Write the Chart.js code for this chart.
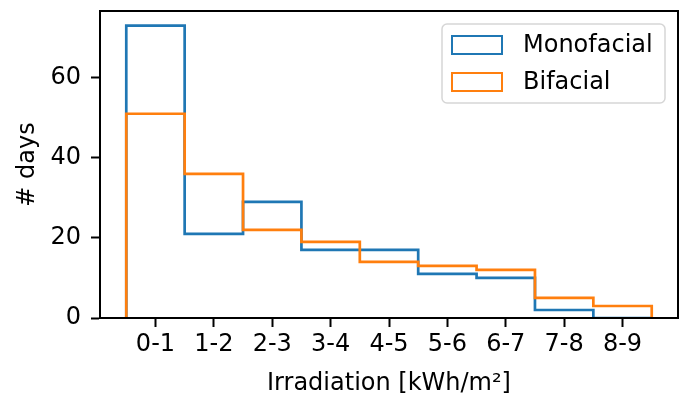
<!DOCTYPE html>
<html>
<head>
<meta charset="utf-8">
<script src="https://cdn.jsdelivr.net/npm/chart.js@4/dist/chart.umd.min.js"></script>
<style>
  body { margin: 0; background: #fff; }
</style>
</head>
<body>
<canvas id="hist" width="686" height="399"></canvas>
<script>
// bins of daily irradiation, kWh/m2
const categories = ['0-1', '1-2', '2-3', '3-4', '4-5', '5-6', '6-7', '7-8', '8-9'];
const monofacial = [73, 21, 29, 17, 17, 11, 10, 2, 0];
const bifacial = [51, 36, 22, 19, 14, 13, 12, 5, 3];
const yTicks = [0, 20, 40, 60];

const FONT = 'DejaVu Sans';
const FS = 24;

// turn bin counts into a step outline (like histtype='step')
function stepPoints(counts) {
  let pts = [{ x: -0.5, y: 0 }];
  counts.forEach((c, i) => {
    pts.push({ x: i - 0.5, y: c });
    pts.push({ x: i + 0.5, y: c });
  });
  pts.push({ x: counts.length - 0.5, y: 0 });
  return pts;
}

const allVals = monofacial.concat(bifacial);
const yMax = Math.max(...allVals) * 1.05;
const xPad = categories.length * 0.05;

// box around the plot + legend drawn inside the axes
const framePlugin = {
  id: 'frame',
  afterDraw(chart) {
    const ctx = chart.ctx;
    const a = chart.chartArea;
    ctx.save();
    ctx.strokeStyle = '#000';
    ctx.lineWidth = 2;
    ctx.strokeRect(a.left, a.top, a.right - a.left, a.bottom - a.top);

    // legend
    const x0 = a.right - 236, y0 = a.top + 13, w = 223, h = 79;
    ctx.beginPath();
    ctx.roundRect(x0, y0, w, h, 5);
    ctx.fillStyle = 'rgba(255,255,255,0.8)';
    ctx.fill();
    ctx.strokeStyle = '#d6d6d6';
    ctx.lineWidth = 1.5;
    ctx.stroke();

    ctx.font = FS + 'px ' + FONT;
    ctx.textBaseline = 'middle';
    ctx.fillStyle = '#000';
    chart.data.datasets.forEach((ds, i) => {
      const cy = y0 + 21 + i * 37;
      ctx.strokeStyle = ds.borderColor;
      ctx.lineWidth = 2;
      ctx.strokeRect(x0 + 10, cy - 9, 50, 18);
      ctx.fillText(ds.label, x0 + 81, cy + 1);
    });
    ctx.restore();
  }
};

const data = {
  datasets: [{
    label: 'Monofacial',
    data: stepPoints(monofacial),
    borderColor: '#1f77b4',
    borderWidth: 2.7,
    pointRadius: 0,
    fill: false,
    order: 1,
  }, {
    label: 'Bifacial',
    data: stepPoints(bifacial),
    borderColor: '#ff7f0e',
    borderWidth: 2.7,
    pointRadius: 0,
    fill: false,
    order: 0,
  }]
};

const options = {
  responsive: false,
  animation: false,
  layout: { padding: { top: 11, right: 8, left: 0, bottom: 0 } },
  plugins: {
    legend: { display: false },
    tooltip: { enabled: false },
  },
  scales: {
    x: {
      type: 'linear',
      min: -0.5 - xPad,
      max: categories.length - 0.5 + xPad,
      afterBuildTicks: (scale) => {
        scale.ticks = categories.map((c, i) => ({ value: i }));
      },
      afterFit: (scale) => {
        scale.height = 81;
        scale.paddingLeft = 0;
        scale.paddingRight = 0;
      },
      grid: { drawOnChartArea: false, tickLength: 9, tickWidth: 2, tickColor: '#000' },
      border: { display: true, color: '#000', width: 2 },
      ticks: {
        autoSkip: false,
        maxRotation: 0,
        padding: 3,
        color: '#000',
        font: { family: FONT, size: FS },
        callback: (v) => categories[v],
      },
      title: {
        display: true,
        text: 'Irradiation [kWh/m²]',
        color: '#000',
        font: { family: FONT, size: FS },
        padding: { top: 0, bottom: 1 },
      },
    },
    y: {
      min: 0,
      max: yMax,
      afterBuildTicks: (scale) => {
        scale.ticks = yTicks.map(v => ({ value: v }));
      },
      afterFit: (scale) => {
        scale.width = 100;
        scale.paddingTop = 0;
        scale.paddingBottom = 0;
      },
      grid: { drawOnChartArea: false, tickLength: 9, tickWidth: 2, tickColor: '#000' },
      border: { display: true, color: '#000', width: 2 },
      ticks: {
        padding: 10,
        color: '#000',
        font: { family: FONT, size: FS },
      },
      title: {
        display: true,
        text: '# days',
        color: '#000',
        font: { family: FONT, size: FS },
        padding: { top: 13, bottom: 0 },
      },
    },
  },
};

new Chart(document.getElementById('hist'), {
  type: 'line',
  data,
  options,
  plugins: [framePlugin],
});
</script>
</body>
</html>
